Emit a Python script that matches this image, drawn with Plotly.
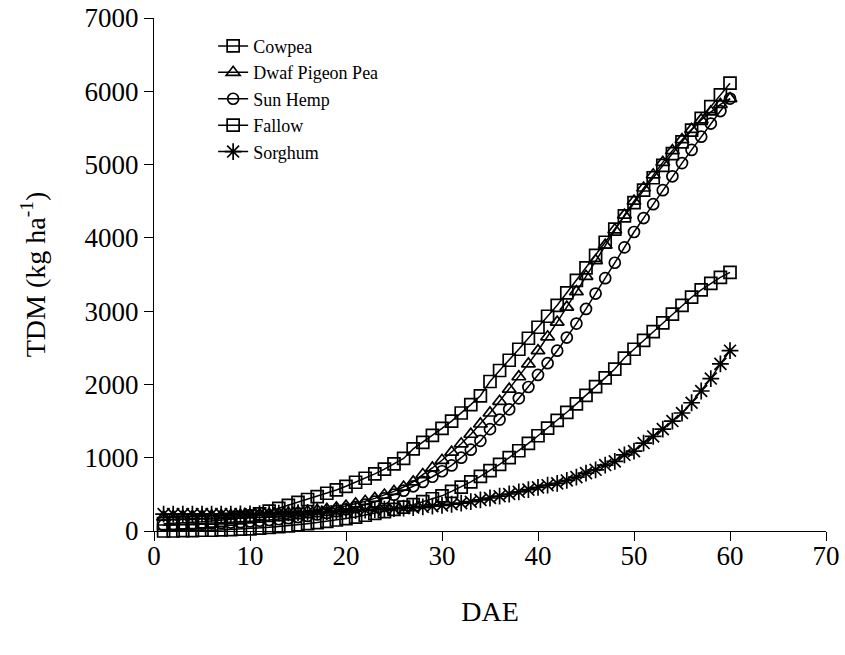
import plotly.graph_objects as go

dae = list(range(1, 61))

cowpea = [100, 105, 110, 115, 125, 135, 145, 160, 180, 205,
          235, 270, 310, 350, 390, 430, 470, 515, 560, 610,
          665, 720, 780, 845, 915, 990, 1120, 1210, 1305, 1400,
          1500, 1610, 1725, 1845, 2040, 2190, 2330, 2480, 2630, 2780,
          2930, 3080, 3250, 3420, 3590, 3760, 3940, 4120, 4300, 4480,
          4650, 4820, 4990, 5150, 5310, 5470, 5630, 5790, 5950, 6110]

pigeon_pea = [190, 195, 200, 200, 205, 205, 210, 210, 215, 220,
              225, 230, 235, 245, 255, 265, 280, 295, 315, 340,
              370, 405, 445, 490, 540, 600, 670, 770, 860, 965,
              1075, 1190, 1320, 1460, 1610, 1770, 1935, 2105, 2280, 2460,
              2650, 2850, 3055, 3265, 3475, 3690, 3900, 4110, 4310, 4500,
              4680, 4860, 5030, 5190, 5340, 5480, 5610, 5720, 5820, 5900]

sun_hemp = [80, 85, 90, 95, 100, 105, 110, 115, 120, 130,
            140, 150, 160, 175, 190, 205, 225, 245, 270, 295,
            325, 360, 400, 445, 495, 550, 610, 670, 740, 815,
            895, 1000, 1110, 1230, 1390, 1520, 1660, 1810, 1965, 2130,
            2290, 2460, 2640, 2830, 3030, 3240, 3450, 3660, 3870, 4080,
            4270, 4460, 4650, 4840, 5020, 5200, 5380, 5560, 5730, 5900]

fallow = [0, 0, 5, 5, 10, 10, 15, 20, 25, 30,
          40, 50, 60, 70, 85, 100, 115, 130, 150, 170,
          190, 215, 240, 265, 295, 325, 360, 400, 440, 480,
          540, 600, 670, 745, 825, 910, 1000, 1095, 1195, 1300,
          1405, 1510, 1620, 1735, 1850, 1970, 2090, 2210, 2360, 2480,
          2600, 2720, 2840, 2960, 3080, 3190, 3290, 3380, 3460, 3530]

sorghum = [230, 230, 230, 230, 230, 230, 230, 230, 232, 235,
           238, 240, 243, 246, 250, 255, 260, 265, 270, 275,
           280, 286, 292, 298, 305, 312, 320, 330, 340, 350,
           365, 380, 400, 425, 450, 475, 505, 535, 565, 595,
           625, 650, 690, 735, 790, 835, 900, 950, 1040, 1090,
           1200, 1290, 1390, 1500, 1610, 1750, 1910, 2080, 2280, 2460]

series = [
    ("Cowpea", cowpea, "square-open", 12),
    ("Dwaf Pigeon Pea", pigeon_pea, "triangle-up-open", 12),
    ("Sun Hemp", sun_hemp, "circle-open", 11),
    ("Fallow", fallow, "square-open", 12),
    ("Sorghum", sorghum, "asterisk-open", 14),
]

x_ticks = [0, 10, 20, 30, 40, 50, 60, 70]
y_ticks = [0, 1000, 2000, 3000, 4000, 5000, 6000, 7000]

fig = go.Figure()
for name, vals, sym, size in series:
    fig.add_trace(go.Scatter(
        x=dae, y=vals, name=name, mode="lines+markers",
        line=dict(color="black", width=1.5),
        marker=dict(symbol=sym, size=size, color="black",
                    line=dict(color="black", width=1.7)),
        cliponaxis=False,
    ))

font = "Liberation Serif, Times New Roman, serif"
fig.update_layout(
    width=845, height=655,
    margin=dict(l=154, r=19, t=18, b=124),
    paper_bgcolor="white", plot_bgcolor="white",
    font=dict(family=font, color="black"),
    showlegend=True,
    legend=dict(x=0.088, y=0.981, xanchor="left", yanchor="top",
                font=dict(family=font, size=18, color="black"),
                bgcolor="rgba(0,0,0,0)", tracegroupgap=0, itemwidth=30),
    xaxis=dict(range=[0, 70], tickvals=x_ticks, ticks="outside", ticklen=9,
               tickwidth=1.3, tickcolor="black", showline=True, linecolor="black",
               linewidth=1.3, showgrid=False, zeroline=False, automargin=False,
               ticklabelstandoff=-9, ticklabeloverflow="allow",
               tickfont=dict(family=font, size=27, color="black"),
               title=dict(text="DAE", font=dict(family=font, size=28, color="black"),
                          standoff=31)),
    yaxis=dict(range=[0, 7000], tickvals=y_ticks, ticks="outside", ticklen=9,
               tickwidth=1.3, tickcolor="black", showline=True, linecolor="black",
               linewidth=1.3, showgrid=False, zeroline=False, automargin=False,
               ticklabeloverflow="allow",
               tickfont=dict(family=font, size=27, color="black"),
               title=dict(text="TDM (kg ha<sup>-1</sup>)",
                          font=dict(family=font, size=28, color="black"),
                          standoff=30)),
)

# remove the default 8px page margin so the figure fills the window exactly
fig.write_html("out.html", config={"displayModeBar": False},
               post_script="document.body.style.margin='0';")
